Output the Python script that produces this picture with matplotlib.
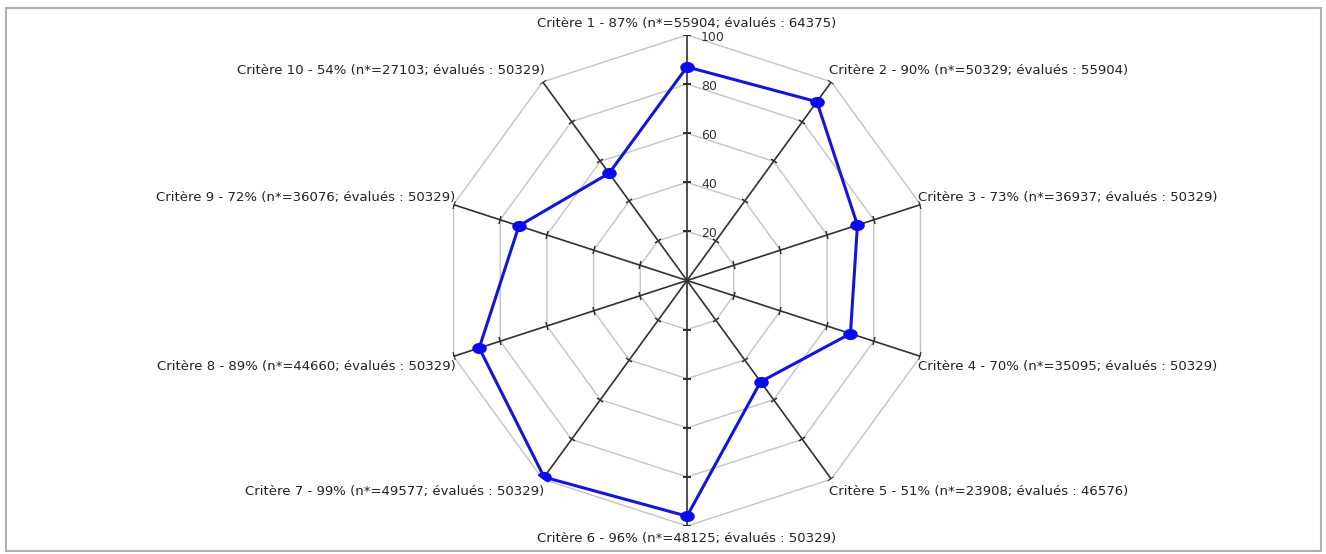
import numpy as np
import matplotlib
matplotlib.use("Agg")
import matplotlib.pyplot as plt
from matplotlib.markers import MarkerStyle
from matplotlib.transforms import Affine2D
from matplotlib.patches import Rectangle

labels = [
    "Critère 1 - 87% (n*=55904; évalués : 64375)",
    "Critère 2 - 90% (n*=50329; évalués : 55904)",
    "Critère 3 - 73% (n*=36937; évalués : 50329)",
    "Critère 4 - 70% (n*=35095; évalués : 50329)",
    "Critère 5 - 51% (n*=23908; évalués : 46576)",
    "Critère 6 - 96% (n*=48125; évalués : 50329)",
    "Critère 7 - 99% (n*=49577; évalués : 50329)",
    "Critère 8 - 89% (n*=44660; évalués : 50329)",
    "Critère 9 - 72% (n*=36076; évalués : 50329)",
    "Critère 10 - 54% (n*=27103; évalués : 50329)",
]
values = [87, 90, 73, 70, 51, 96, 99, 89, 72, 54]
levels = [20, 40, 60, 80, 100]
level_labels = ["20", "40", "60", "80", "100"]

W, H = 1326, 554
fig = plt.figure(figsize=(W / 100, H / 100), dpi=100)
cx, cy, R = 687, 280.5, 245.5
ax = fig.add_axes([(cx - R) / W, (H - cy - R) / H, 2 * R / W, 2 * R / H],
                  projection="polar")
ax.set_theta_zero_location("N")
ax.set_theta_direction(-1)
ax.set_ylim(0, 100)
ax.grid(False)
ax.spines["polar"].set_visible(False)
ax.set_xticks([])
ax.set_yticks([])
ax.patch.set_alpha(0)

n = len(labels)
theta = np.arange(n) * 2 * np.pi / n
theta_c = np.append(theta, theta[0])

# polygon grid
for lv in levels:
    ax.plot(theta_c, [lv] * (n + 1), color="#c4c4c4", lw=1.0, zorder=1)
# spokes with tick marks
for i, t in enumerate(theta):
    ax.plot([t, t], [0, 100], color="#303030", lw=1.2, zorder=2)
    m = MarkerStyle("_", transform=Affine2D().rotate_deg(-np.degrees(t)))
    ax.plot([t] * len(levels), levels, linestyle="none", marker=m,
            markersize=6, markeredgewidth=1.1, color="#303030", zorder=2)

# level labels
for lv, lab in zip(levels, level_labels):
    ax.annotate(lab, xy=(0, lv), xytext=(14, -2), textcoords="offset pixels",
                ha="left", va="center", fontsize=9, color="#333333", zorder=3)

# data
vals_c = values + [values[0]]
ax.plot(theta_c, vals_c, color="#1414dc", lw=2.2, zorder=4)
ell = MarkerStyle("o", transform=Affine2D().scale(1.35, 1.0))
ax.plot(theta, values, linestyle="none", marker=ell, markersize=7,
        color="#0a0af0", zorder=5)

# category labels
for i, (t, lab) in enumerate(zip(theta, labels)):
    s, c = np.sin(t), np.cos(t)
    if abs(s) < 1e-6:
        ha = "center"
        dx = 0
    elif s > 0:
        ha = "left"
        dx = -2
    else:
        ha = "right"
        dx = 2
    if c > 0.5:
        va, dy = "bottom", 5
    elif c > 0:
        va, dy = "bottom", 1
    elif c > -0.5:
        va, dy = "top", -4
    else:
        va, dy = "top", -6
    ax.annotate(lab, xy=(t, 100), xytext=(dx, dy), textcoords="offset pixels",
                ha=ha, va=va, fontsize=9.5, color="#222222", annotation_clip=False)

fig.patches.append(Rectangle((6 / W, 1 - 551 / H), (1321 - 6) / W, (551 - 8) / H,
                             transform=fig.transFigure, fill=False,
                             edgecolor="#b0b0b0", lw=1.5))

fig.savefig("out.png", dpi=100)
